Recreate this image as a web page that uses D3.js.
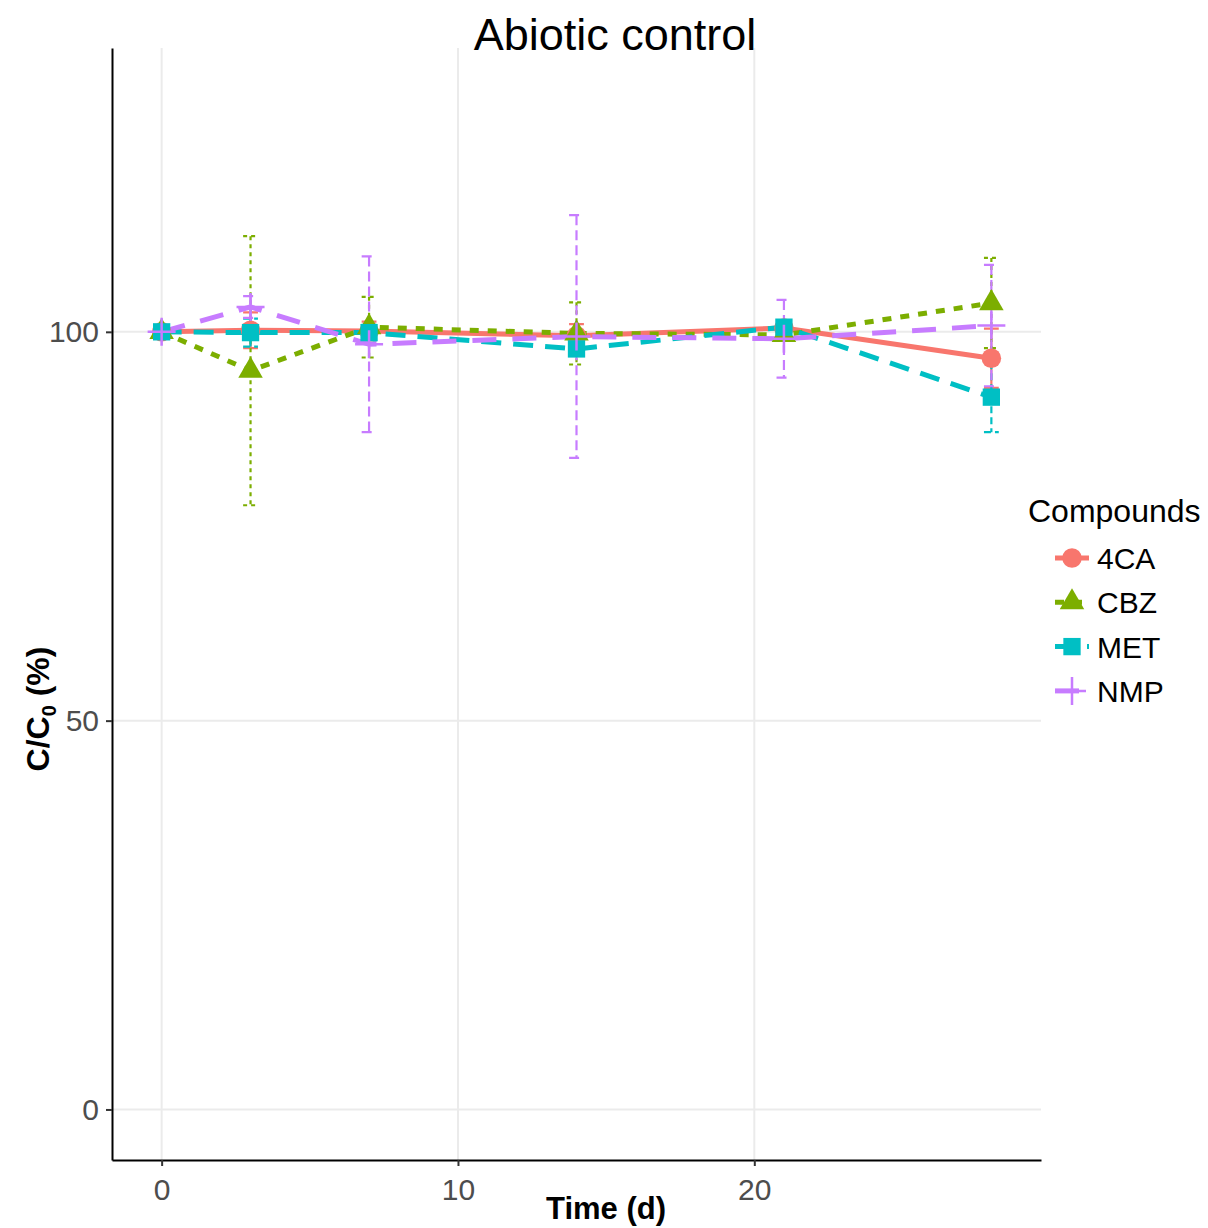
<!DOCTYPE html>
<html>
<head>
<meta charset="utf-8">
<script src="https://cdn.jsdelivr.net/npm/d3@7"></script>
<style>
  body { margin: 0; background: #fff; }
  text { font-family: "Liberation Sans", Arial, Helvetica, sans-serif; }
</style>
</head>
<body>
<svg id="chart" width="1208" height="1228"></svg>
<script>
var times = [0, 3, 7, 14, 21, 28];
var compounds = ['4CA', 'CBZ', 'MET', 'NMP'];

// mean C/C0 (%) per sampling time
var mean4CA = [100, 100.2, 100.1, 99.5, 100.5, 96.6];
var meanCBZ = [100, 95.0, 100.6, 99.8, 99.6, 103.7];
var meanMET = [100, 99.9, 99.9, 97.8, 100.6, 91.6];
var meanNMP = [100, 103.2, 98.4, 99.4, 99.1, 100.8];

// standard deviations
var sd4CA = [0, 2.3, 1.2, 1.5, 1.0, 3.8];
var sdCBZ = [0, 17.3, 3.9, 4.0, 0.5, 5.8];
var sdMET = [0, 1.8, 1.0, 0.6, 0.5, 4.5];
var sdNMP = [0, 1.4, 11.3, 15.6, 5.0, 7.8];

var xTicks = [0, 10, 20];
var yTicks = [0, 50, 100];

var colors = ['#F8766D', '#7CAE00', '#00BFC4', '#C77CFF'];
var lineDash = [null, '9,9', '20,12', '24,16'];
var barDash = [null, '4,4', '7,4', '10,5'];
var shapes = [d3.symbolCircle, d3.symbolTriangle, d3.symbolSquare, null];

var means = [mean4CA, meanCBZ, meanMET, meanNMP];
var sds = [sd4CA, sdCBZ, sdMET, sdNMP];

var series = compounds.map(function (name, i) {
  return {
    name: name,
    index: i,
    values: times.map(function (t, j) {
      return { t: t, v: means[i][j], sd: sds[i][j] };
    })
  };
});

var svg = d3.select('#chart');

var panel = { left: 112, right: 1041, top: 48, bottom: 1160 };

var x = d3.scaleLinear()
  .domain([-1.675, 29.675])
  .range([panel.left, panel.right]);

var y = d3.scaleLinear()
  .domain([-6.5, 136.5])
  .range([panel.bottom, panel.top]);

/**
 * Grid
 */
var grid = svg.append('g').attr('class', 'grid');

grid.selectAll('line.gx')
  .data(xTicks)
  .enter()
  .append('line')
  .attr('x1', function (d) { return x(d); })
  .attr('x2', function (d) { return x(d); })
  .attr('y1', panel.top)
  .attr('y2', panel.bottom)
  .attr('stroke', '#ebebeb')
  .attr('stroke-width', 2);

grid.selectAll('line.gy')
  .data(yTicks)
  .enter()
  .append('line')
  .attr('x1', panel.left)
  .attr('x2', panel.right)
  .attr('y1', function (d) { return y(d); })
  .attr('y2', function (d) { return y(d); })
  .attr('stroke', '#ebebeb')
  .attr('stroke-width', 2);

/**
 * Axes
 */
var xAxis = svg.append('g')
  .attr('transform', 'translate(0,' + panel.bottom + ')')
  .call(d3.axisBottom(x).tickValues(xTicks).tickSize(6).tickPadding(13).tickSizeOuter(0));

var yAxis = svg.append('g')
  .attr('transform', 'translate(' + panel.left + ',0)')
  .call(d3.axisLeft(y).tickValues(yTicks).tickSize(6).tickPadding(7).tickSizeOuter(0));

[xAxis, yAxis].forEach(function (ax) {
  ax.select('.domain').attr('stroke', '#000').attr('stroke-width', 2);
  ax.selectAll('.tick line').attr('stroke', '#333').attr('stroke-width', 2);
  ax.selectAll('.tick text')
    .attr('fill', '#4d4d4d')
    .style('font-size', '30px')
    .style('font-family', '"Liberation Sans", Arial, sans-serif');
});

/**
 * Error bars, lines, points
 */
var errLayer = svg.append('g').attr('class', 'errorbars');
var lineLayer = svg.append('g').attr('class', 'lines');
var pointLayer = svg.append('g').attr('class', 'points');

var capHalf = (x(0.25) - x(0));

var drawLine = d3.line()
  .x(function (d) { return x(d.t); })
  .y(function (d) { return y(d.v); });

series.forEach(function (s) {
  var col = colors[s.index];

  var bars = errLayer.append('g')
    .selectAll('g')
    .data(s.values)
    .enter()
    .append('g');

  bars.append('path')
    .attr('d', function (d) {
      var cx = x(d.t);
      var hi = y(d.v + d.sd);
      var lo = y(d.v - d.sd);
      return 'M' + (cx - capHalf) + ',' + hi + 'H' + (cx + capHalf) +
        'M' + cx + ',' + hi + 'V' + lo +
        'M' + (cx - capHalf) + ',' + lo + 'H' + (cx + capHalf);
    })
    .attr('fill', 'none')
    .attr('stroke', col)
    .attr('stroke-width', 2.2)
    .attr('stroke-dasharray', barDash[s.index]);

  lineLayer.append('path')
    .datum(s.values)
    .attr('d', drawLine)
    .attr('fill', 'none')
    .attr('stroke', col)
    .attr('stroke-width', 5)
    .attr('stroke-dasharray', lineDash[s.index]);
});

function drawPoint(sel, idx) {
  var col = colors[idx];
  if (shapes[idx]) {
    var size = idx === 1 ? 260 : 300;
    sel.append('path')
      .attr('d', d3.symbol().type(shapes[idx]).size(size))
      .attr('fill', col);
  } else {
    sel.append('path')
      .attr('d', 'M-14,0H14M0,-14V14')
      .attr('stroke', col)
      .attr('stroke-width', 2.5);
  }
}

series.forEach(function (s) {
  pointLayer.append('g')
    .selectAll('g')
    .data(s.values)
    .enter()
    .append('g')
    .attr('transform', function (d) {
      return 'translate(' + x(d.t) + ',' + y(d.v) + ')';
    })
    .each(function () {
      drawPoint(d3.select(this), s.index);
    });
});

/**
 * Titles
 */
svg.append('text')
  .attr('x', 615)
  .attr('y', 50)
  .attr('text-anchor', 'middle')
  .style('font-size', '45px')
  .text('Abiotic control');

svg.append('text')
  .attr('x', 606)
  .attr('y', 1219)
  .attr('text-anchor', 'middle')
  .style('font-size', '31px')
  .style('font-weight', 'bold')
  .text('Time (d)');

var yTitle = svg.append('text')
  .attr('transform', 'translate(49,709) rotate(-90)')
  .attr('text-anchor', 'middle')
  .style('font-size', '32px')
  .style('font-weight', 'bold');

yTitle.append('tspan').text('C/C');
yTitle.append('tspan').attr('dy', 7).style('font-size', '20px').text('0');
yTitle.append('tspan').attr('dy', -7).text(' (%)');

/**
 * Legend
 */
var legend = svg.append('g').attr('class', 'legend');

legend.append('text')
  .attr('x', 1028)
  .attr('y', 522)
  .style('font-size', '32px')
  .text('Compounds');

var keys = legend.selectAll('g.key')
  .data(series)
  .enter()
  .append('g')
  .attr('class', 'key')
  .attr('transform', function (d, i) {
    return 'translate(0,' + (558 + i * 44.3) + ')';
  });

keys.append('line')
  .attr('x1', 1055)
  .attr('x2', 1089)
  .attr('stroke', function (d) { return colors[d.index]; })
  .attr('stroke-width', 5)
  .attr('stroke-dasharray', function (d) { return lineDash[d.index]; });

keys.append('g')
  .attr('transform', 'translate(1072,0)')
  .each(function (d) {
    drawPoint(d3.select(this), d.index);
  });

keys.append('text')
  .attr('x', 1097)
  .attr('y', 11)
  .style('font-size', '30px')
  .text(function (d) { return d.name; });
</script>
</body>
</html>
